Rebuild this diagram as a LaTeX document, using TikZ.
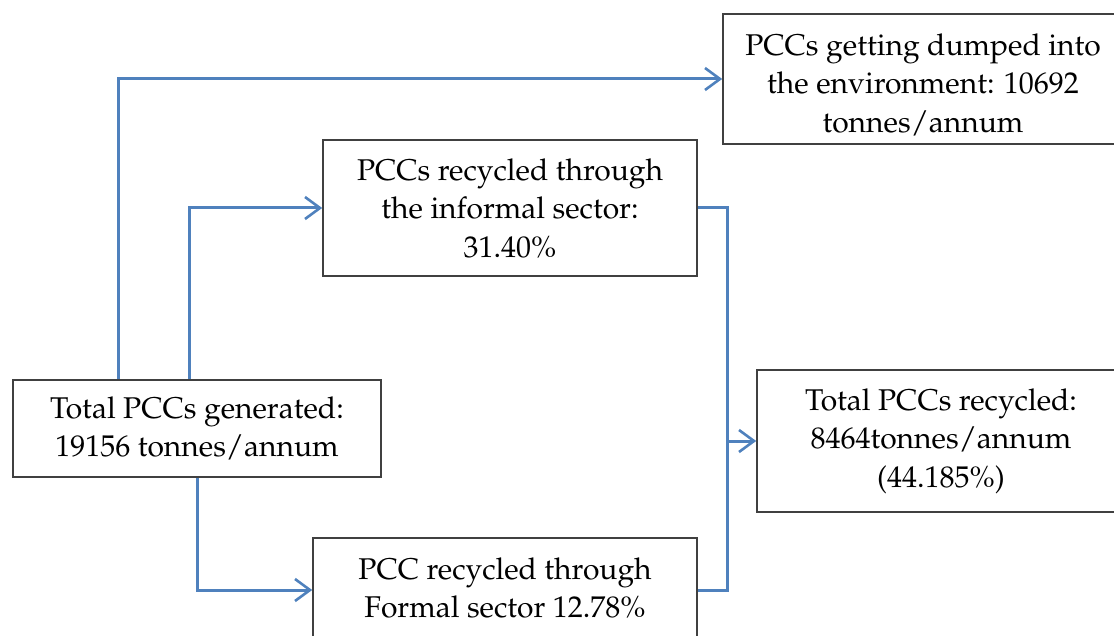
\documentclass[tikz,border=0pt]{standalone}
\usepackage[T1]{fontenc}
\usepackage{mathpazo}
\usetikzlibrary{arrows.meta,calc}
\definecolor{flowblue}{HTML}{4F81BD}
\definecolor{boxgray}{HTML}{404040}
\tikzset{
  stage/.style={draw=boxgray, line width=1.6pt, fill=white, inner sep=0pt,
    align=center, font=\fontsize{30}{38.5}\selectfont},
  flow/.style={draw=flowblue, line width=3pt,
    -{Straight Barb[length=15pt,width=22pt,line width=2.6pt]}},
  plain/.style={draw=flowblue, line width=3pt}
}
\begin{document}
\begin{tikzpicture}[x=1pt,y=-1pt]
\useasboundingbox (0,0) rectangle (1114,636);
\clip (0,0) rectangle (1114,636);

% stages of the PCC stream
\node[stage, minimum width=368pt, minimum height=97pt] (gen) at (197,428.5)
  {Total PCCs generated:\\19156 tonnes/annum};
\node[stage, minimum width=400pt, minimum height=130pt] (dump) at (923,79)
  {\rule{0pt}{33pt}PCCs getting dumped into\\the environment: 10692\\tonnes/annum};
\node[stage, minimum width=374pt, minimum height=136pt] (inf) at (510,208)
  {PCCs recycled through\\the informal sector:\\31.40\%};
\node[stage, minimum width=368pt, minimum height=142pt] (tot) at (941,441)
  {Total PCCs recycled:\\8464tonnes/annum\\(44.185\%)};
\node[stage, minimum width=384pt, minimum height=100pt] (form) at (505,588)
  {PCC recycled through\\Formal sector 12.78\%};

% branch points
\coordinate (b1) at ($(gen.north west)+(106,0)$);
\coordinate (b2) at ($(gen.north west)+(177,0)$);
\coordinate (fin) at ($(form.west)+(0,2)$);
\coordinate (fout) at ($(form.east)+(0,2)$);
\coordinate (rail) at (727,0);

% flows
\draw[flow] (b1) |- (dump.west);
\draw[flow] (b2) |- (inf.west);
\draw[flow] (gen.south) |- (fin);
\draw[flow] (inf.east) -| (rail |- tot.west) -- (tot.west);
\draw[plain] (fout) -| (rail |- tot.west);
\end{tikzpicture}
\end{document}
